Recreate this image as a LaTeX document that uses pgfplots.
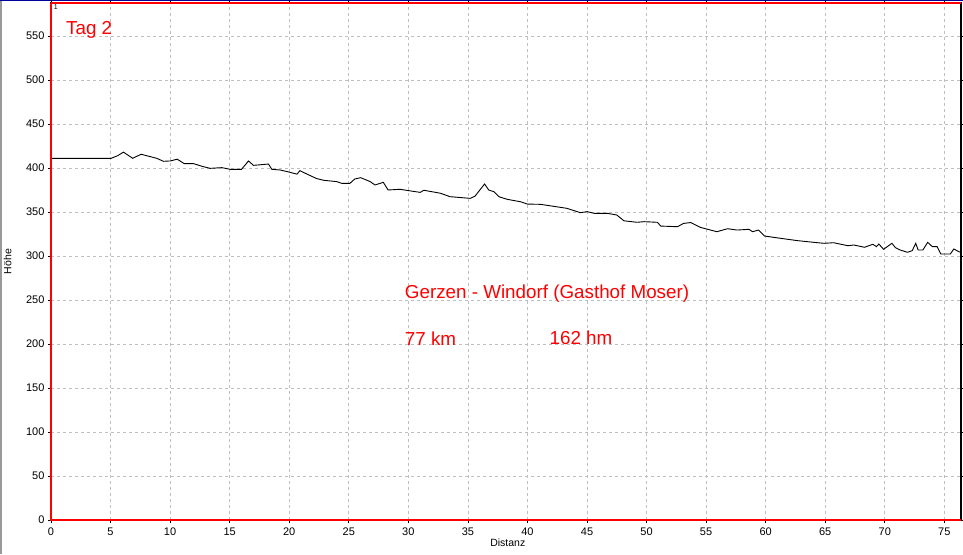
\documentclass[border=0pt]{standalone}
\usepackage{pgfplots}
\pgfplotsset{compat=1.18}
\usepackage{fontspec}
\setmainfont{Liberation Sans}
\begin{document}
\begin{tikzpicture}
\path[use as bounding box] (-51pt,-34pt) rectangle (912pt,520pt);
\fill[gray!80] (-51pt,-34pt) rectangle (-49pt,520pt);
\fill[blue!60!black] (-51pt,518.5pt) rectangle (912pt,520pt);
\begin{axis}[
  at={(0,0)}, anchor=south west,
  scale only axis,
  width=910pt, height=517pt,
  xmin=0, xmax=76.4, ymin=0, ymax=587.5,
  xtick={0,5,...,75}, ytick={0,50,...,550},
  grid=major,
  major grid style={gray!50, dash pattern=on 3pt off 3pt, line width=0.7pt},
  tick align=outside,
  major tick length=3pt,
  tick style={black, line width=0.6pt},
  axis line style={black, line width=1.4pt},
  ticklabel style={font=\fontsize{11}{13}\selectfont},
  xticklabel style={yshift=-1pt},
  /pgf/number format/assume math mode=true,
  xlabel={Distanz}, ylabel={Höhe},
  label style={font=\fontsize{10.5}{12}\selectfont},
  xlabel style={at={(axis description cs:0.502,0)}, anchor=north, yshift=-15pt},
  ylabel style={at={(axis description cs:0,0.5)}, anchor=south, xshift=0pt, yshift=36pt},
  clip=false,
]
\addplot[black, line width=0.9pt] coordinates {
(0,411) (5.05,411) (5.6,414) (6.08,418) (6.86,411) (7.56,415.6) (8.88,411) (9.44,407.6) (10.0,408) (10.6,410) (11.18,405) (11.96,405) (12.66,402) (13.36,399.6) (14.34,400.4) (15.04,398.5) (16.0,398.5) (16.58,408) (17.0,403) (18.26,404.5) (18.54,398.5) (19.24,397.7) (19.8,396) (20.65,393) (20.9,397) (21.5,393) (22.3,388) (22.9,386) (24.0,384.5) (24.4,382.6) (25.1,382.6) (25.5,387.5) (26.0,389) (26.8,384.5) (27.2,380.7) (27.9,383.7) (28.3,375) (29.3,375.8) (30.2,373.9) (31.0,372.3) (31.3,374.7) (32.7,371.3) (33.5,367.4) (35.2,365.5) (35.6,368) (36.4,381.8) (36.75,375) (37.2,373) (37.6,367.4) (38.3,364.4) (39.4,361.7) (40.0,359) (41.1,358.7) (43.3,354.2) (44.45,349.2) (45.0,350.4) (45.6,348.5) (46.7,348.5) (47.5,346.6) (48.1,340) (49.2,338.3) (49.8,339) (50.9,338.3) (51.2,334) (52.6,333.3) (53.1,337) (53.7,338) (54.5,332.6) (55.9,327.6) (56.8,331) (57.6,329.5) (58.6,330.3) (58.9,327.6) (59.4,329.5) (59.9,322.7) (61.3,320) (62.7,317.4) (64.06,315.5) (64.9,314.4) (65.7,315.1) (66.9,311.7) (67.4,312.5) (68.3,309.9) (69.0,313.3) (69.3,310.6) (69.5,313.6) (69.9,307.6) (70.6,314.4) (70.9,309.4) (71.3,306.8) (71.9,304.2) (72.3,306) (72.6,314.4) (72.8,306.8) (73.2,306.8) (73.6,315.5) (74.0,310.6) (74.4,310.6) (74.7,302.3) (75.5,302.3) (75.8,308) (76.2,305) (76.4,304)
};
\draw[red, line width=1.2pt] (rel axis cs:0,1) -- (rel axis cs:0,0) -- (rel axis cs:1,0);
\draw[red, line width=1.2pt] (rel axis cs:0,1) -- (rel axis cs:1,1);
\node[anchor=north west, inner sep=0pt, font=\fontsize{7}{8}\selectfont] at (rel axis cs:0.003,0.997) {1};
\node[anchor=west, inner sep=0pt, text=red, font=\fontsize{18.8}{21}\selectfont] at (axis cs:1.26,556.8) {Tag 2};
\node[anchor=west, inner sep=0pt, text=red, font=\fontsize{18.8}{21}\selectfont] at (axis cs:29.7,257.5) {Gerzen - Windorf (Gasthof Moser)};
\node[anchor=west, inner sep=0pt, text=red, font=\fontsize{18.8}{21}\selectfont] at (axis cs:29.7,206.5) {77 km};
\node[anchor=west, inner sep=0pt, text=red, font=\fontsize{18.8}{21}\selectfont] at (axis cs:41.85,206.5) {162 hm};
\end{axis}
\end{tikzpicture}
\end{document}
